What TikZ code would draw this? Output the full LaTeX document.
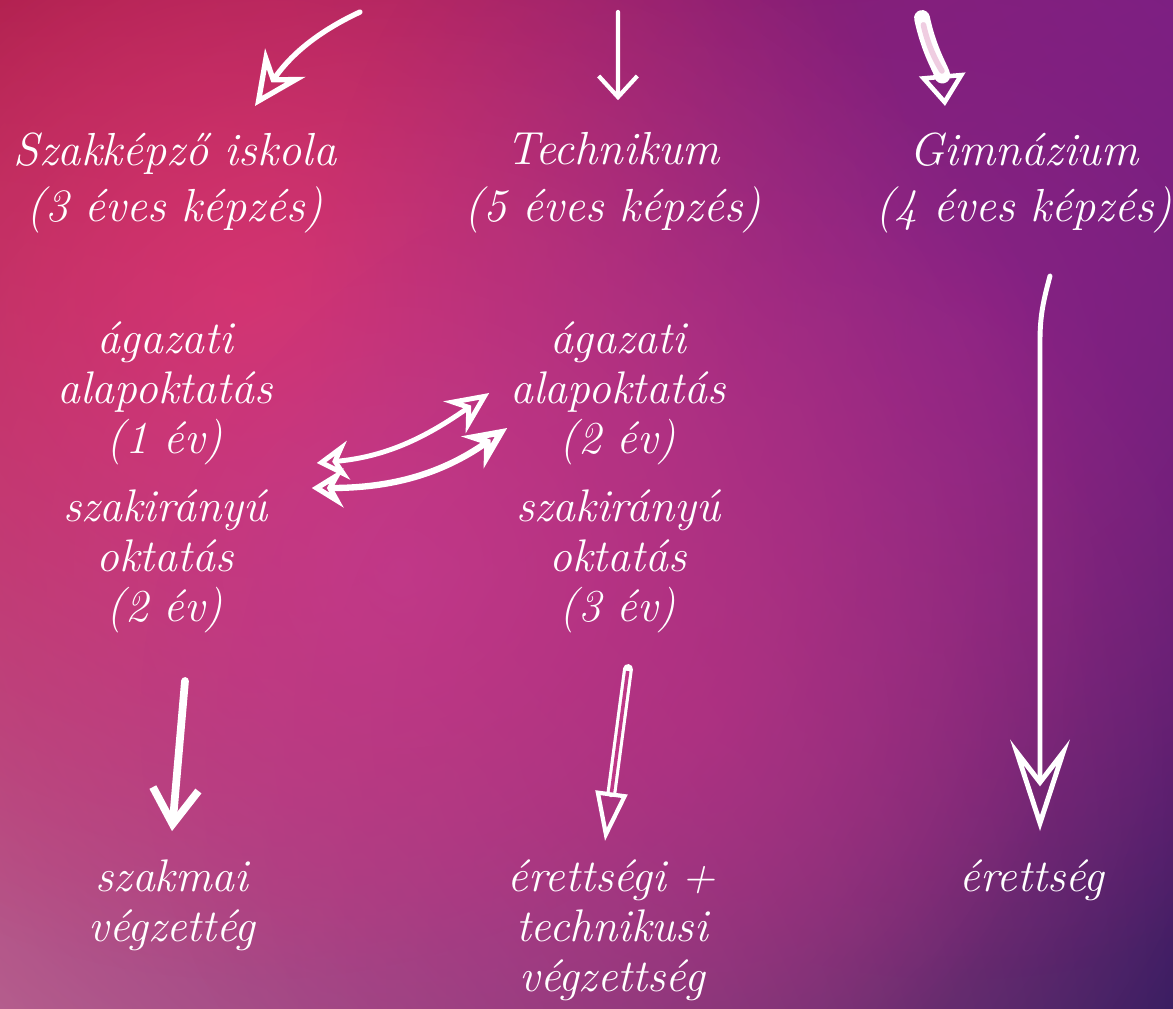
\documentclass[tikz,border=0pt]{standalone}
\usepackage{tikz}
\usetikzlibrary{arrows.meta,fadings,shadings}

\definecolor{bgtl}{RGB}{148,28,78}
\definecolor{bgtr}{RGB}{118,30,128}
\definecolor{bgbl}{RGB}{178,98,140}
\definecolor{bgbr}{RGB}{58,30,98}
\definecolor{glowred}{RGB}{228,45,85}
\definecolor{glowpink}{RGB}{200,62,148}
\definecolor{glowmag}{RGB}{185,48,130}
\definecolor{glowpur}{RGB}{142,34,136}
\definecolor{shaftin}{RGB}{190,55,135}

\tikzfading[name=glow, inner color=transparent!0, outer color=transparent!100]

\tikzset{
  head/.style={text=white, align=center, font=\fontsize{13.2}{16.2}\selectfont\itshape},
  body/.style={text=white, align=center, font=\fontsize{13}{14.2}\selectfont\itshape},
  hand/.style={white, line width=1.2pt, line cap=round, line join=round}
}

\begin{document}
\begin{tikzpicture}[x=0.1mm, y=0.1mm]
	\useasboundingbox (0,0) rectangle (1173,-1009);
	% background
	\begin{scope}
		\clip (0,0) rectangle (1173,-1009);
		\shade[upper left=bgtl, upper right=bgtr, lower left=bgbl, lower right=bgbr] (0,0) rectangle (1173,-1009);
		\fill[glowred, path fading=glow, opacity=0.9] (250,-300) circle (680);
		\fill[glowpur, path fading=glow, opacity=0.8] (960,-330) circle (650);
		\fill[glowpink, path fading=glow, opacity=0.8] (400,-570) circle (700);
		\fill[glowmag, path fading=glow, opacity=0.6] (700,-720) circle (560);
	\end{scope}

	% schools
	\node[head] (szak) at (175,-183) {Szakképző iskola\\(3 éves képzés)};
	\node[head] (tech) at (613,-183) {Technikum\\(5 éves képzés)};
	\node[head] (gim) at (1024,-183) {Gimnázium\\(4 éves képzés)};

	% stages
	\node[body] (agl) at (165,-393) {ágazati\\alapoktatás\\(1 év)};
	\node[body] (szl) at (165,-561) {szakirányú\\oktatás\\(2 év)};
	\node[body] (agm) at (618,-393) {ágazati\\alapoktatás\\(2 év)};
	\node[body] (szm) at (618,-561) {szakirányú\\oktatás\\(3 év)};

	% results
	\node[body] (vegl) at (172,-905) {szakmai\\végzettég};
	\node[body] (vegm) at (612,-930) {érettségi +\\technikusi\\végzettség};
	\node[body] (ert) at (1032,-880) {érettség};

	\coordinate (fromL) at (360,-12);
	\coordinate (fromM) at (618,-12);
	\coordinate (fromR) at (922,-18);

	% arrows from the top
	\draw[hand, line width=1.5pt, -{Stealth[open, length=15pt, width=14pt, inset=5pt, line width=1.5pt]}] (fromL) to[out=205, in=55] ([xshift=8mm, yshift=1.4mm]szak.north);
	\draw[hand, -{Straight Barb[length=6pt, width=11pt]}] (fromM) -- ([xshift=0.5mm, yshift=2mm]tech.north);
	\draw[hand, line width=4.5pt, -{Triangle[open, length=9pt, width=13pt, line width=1.3pt]}] (fromR) to[out=-78, in=95] ([xshift=-7.9mm, yshift=1.4mm]gim.north);
	\draw[white!75!shaftin, line width=1.6pt, line cap=round, shorten >=10pt, shorten <=2pt] (fromR) to[out=-78, in=95] ([xshift=-7.9mm, yshift=1.4mm]gim.north);

	% switching between the two
	\draw[hand, line width=1.4pt, {Stealth[open, length=9pt, width=11pt, inset=3pt]}-{Stealth[open, length=12pt, width=11pt, inset=4pt]}] ([shift={(32,-70)}]agl.east) to[out=5, in=215] ([shift={(-9,0)}]agm.west);
	\draw[hand, line width=1.8pt, {Stealth[open, length=9pt, width=11pt, inset=3pt]}-{Stealth[open, length=12pt, width=11pt, inset=4pt]}] ([shift={(27,-95)}]agl.east) to[out=0, in=215] ([shift={(9,-35)}]agm.west);

	% arrows to the results
	\draw[hand, line width=2.2pt, -{Straight Barb[length=10pt, width=13pt]}] ([xshift=2mm, yshift=-3.6mm]szl.south) -- ([yshift=1.6mm]vegl.north);
	\draw[hand, -{Triangle[open, length=14pt, width=9pt]}] ([xshift=1mm, yshift=-2.4mm]szm.south) -- ([xshift=-0.7mm, yshift=0.6mm]vegm.north);
	\draw[white, line width=2.8pt, line cap=round, shorten >=14pt] ([xshift=1mm, yshift=-2.4mm]szm.south) -- ([xshift=-0.7mm, yshift=0.6mm]vegm.north);
	\draw[shaftin, line width=1pt, shorten >=14pt, shorten <=0.6pt] ([xshift=1mm, yshift=-2.4mm]szm.south) -- ([xshift=-0.7mm, yshift=0.6mm]vegm.north);
	\draw[hand, line width=1.4pt, -{Stealth[open, length=26pt, width=17pt, inset=11pt, line width=1.4pt]}] ([xshift=2.6mm, yshift=-3mm]gim.south) to[out=-105, in=90] ++(-10,-65) -- ([xshift=0.8mm, yshift=1.6mm]ert.north);
\end{tikzpicture}
\end{document}
